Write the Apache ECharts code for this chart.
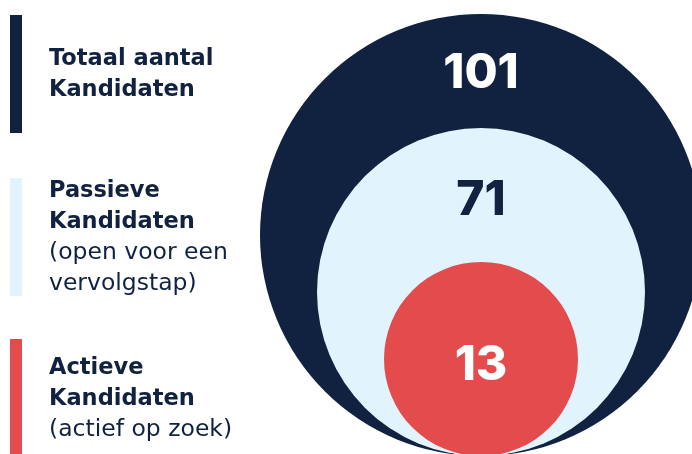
<!DOCTYPE html>
<html>
<head>
<meta charset="utf-8">
<script src="https://cdn.jsdelivr.net/npm/echarts@6/dist/echarts.min.js"></script>
<style>html,body{margin:0;padding:0;background:#fff}#c{width:692px;height:454px}</style>
</head>
<body>
<div id="c"></div>
<script>
// ---- data ----
var categories = ['Totaal aantal Kandidaten', 'Passieve Kandidaten', 'Actieve Kandidaten'];
var values = [101, 71, 13];
var titleLines = [['Totaal aantal', 'Kandidaten'], ['Passieve', 'Kandidaten'], ['Actieve', 'Kandidaten']];
var subLines = [[], ['(open voor een', 'vervolgstap)'], ['(actief op zoek)']];

// ---- styling ----
var NAVY = '#10223F', LIGHT = '#E1F4FD', RED = '#E44B4C';
var fillColors = [NAVY, LIGHT, RED];
var numColors = ['#ffffff', NAVY, '#ffffff'];
var radii = [221, 164, 97];
var labelDy = [60, 73, 104];
var barTops = [15, 178, 339];
var barH = [118, 118, 115];
var textTops = [59, 191, 368];
var FONT = '"DejaVu Sans", sans-serif';
var NUMFONT = 'Inter, "Noto Sans", sans-serif';

var chart = echarts.init(document.getElementById('c'), null, {renderer: 'canvas'});

var graphics = [];
categories.forEach(function (c, i) {
  graphics.push({type: 'rect', shape: {x: 10, y: barTops[i], width: 12, height: barH[i]}, style: {fill: fillColors[i]}});
  var lines = titleLines[i].map(function (t) { return {t: t, bold: true}; })
    .concat(subLines[i].map(function (t) { return {t: t, bold: false}; }));
  lines.forEach(function (ln, j) {
    graphics.push({
      type: 'text',
      x: 49, y: textTops[i] + j * 31,
      style: {
        text: ln.t, fill: NAVY,
        font: (ln.bold ? '700 22.5px ' : '400 23.5px ') + FONT,
        verticalAlign: 'middle', align: 'left'
      }
    });
  });
});

chart.setOption({
  animation: false,
  graphic: graphics,
  series: [{
    type: 'custom',
    coordinateSystem: 'none',
    data: values.map(function (v, i) { return {name: categories[i], value: v}; }),
    renderItem: function (params, api) {
      var i = params.dataIndex;
      var r = radii[i];
      var cx = 481, bottom = 456;
      var cy = bottom - r;
      return {
        type: 'group',
        children: [
          {type: 'circle', shape: {cx: cx, cy: cy, r: r}, style: {fill: fillColors[i]}},
          {type: 'text', x: cx, y: cy - r + labelDy[i],
           style: {text: String(api.value(0)), fill: numColors[i], font: '800 48px ' + NUMFONT,
                   align: 'center', verticalAlign: 'middle'}}
        ]
      };
    }
  }]
});
</script>
</body>
</html>
